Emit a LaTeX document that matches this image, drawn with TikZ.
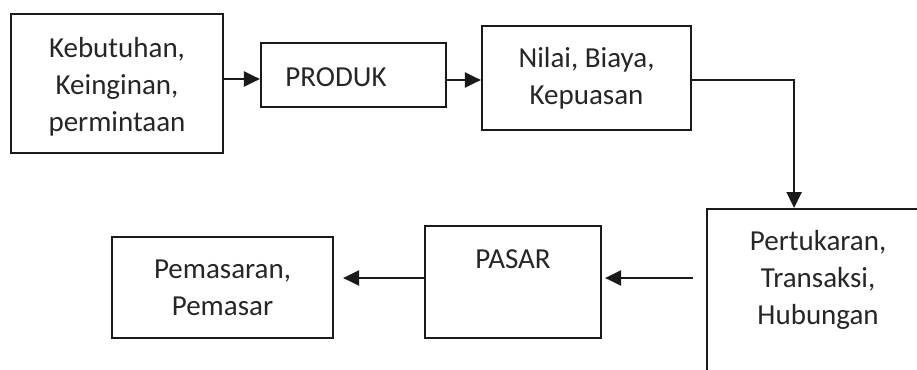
\documentclass[tikz,border=0pt]{standalone}
\usepackage{fontspec}
\setmainfont{Carlito}
\usetikzlibrary{arrows.meta,calc}
\definecolor{txtc}{HTML}{262626}
\definecolor{linec}{HTML}{1A1A1A}
\begin{document}
\begin{tikzpicture}[x=1pt,y=-1pt,
  box/.style={draw=linec, line width=2.2pt, rectangle, inner sep=0pt, align=center,
    font=\fontsize{29}{37}\selectfont, text=txtc},
  lbl/.style={inner sep=0pt, align=center, font=\fontsize{29}{37}\selectfont, text=txtc},
  arr/.style={draw=linec, line width=2.2pt, -{Triangle[length=16pt,width=15pt]}}]
\useasboundingbox (0,0) rectangle (917,369);
\clip (0,0) rectangle (917,369);
\node[box, minimum width=212pt, minimum height=139pt,
  label={[lbl,anchor=center,yshift=-3pt]center:Kebutuhan,\\Keinginan,\\permintaan}] (n1) at (117,83.5) {};
\node[box, minimum width=185pt, minimum height=64pt,
  label={[lbl,anchor=center,xshift=-17.5pt,yshift=-2pt]center:PRODUK}] (n2) at (353.5,75) {};
\node[box, minimum width=209pt, minimum height=104pt] (n3) at (586.5,78)
  {Nilai, Biaya,\\Kepuasan};
\node[box, minimum width=222pt, minimum height=200pt, anchor=north west,
  label={[lbl,anchor=north,yshift=-22pt]north:Pertukaran,\\Transaksi,\\Hubungan}] (n5) at (706,208) {};
\node[box, minimum width=176pt, minimum height=112pt,
  label={[lbl,anchor=center,yshift=-34pt]north:PASAR}] (n4) at (513,282) {};
\node[box, minimum width=221pt, minimum height=101pt] (n6) at (222.5,287.5)
  {Pemasaran,\\Pemasar};
\draw[arr] ([yshift=4.5pt]n1.east) -- ([yshift=4.5pt]n1.east -| n2.west);
\draw[arr] ([yshift=-5pt]n2.east) -- ([yshift=-5pt]n2.east -| n3.west);
\draw[arr] ([yshift=-2pt]n3.east) -| ([xshift=-24pt]n5.north);
\draw[arr, shorten <=13pt, shorten >=3pt] ([yshift=4pt]n4.east -| n5.west) -- ([yshift=4pt]n4.east);
\draw[arr, shorten >=9pt] ([yshift=4pt]n4.west) -- ([yshift=4pt]n4.west -| n6.east);
\end{tikzpicture}
\end{document}
